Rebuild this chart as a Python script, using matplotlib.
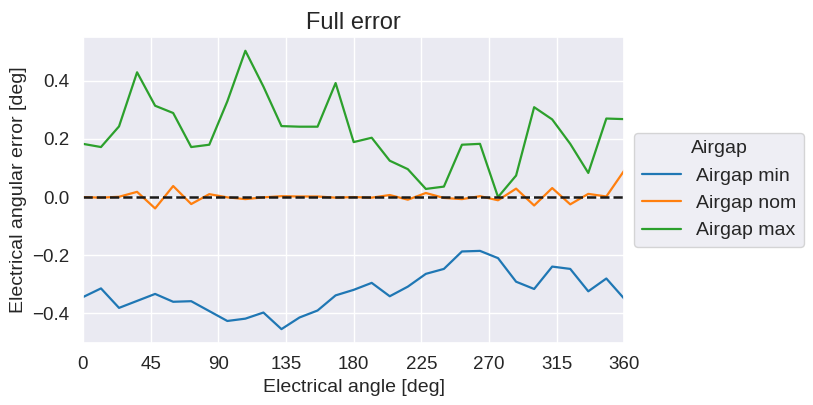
import matplotlib
matplotlib.use("Agg")
import matplotlib.pyplot as plt
import seaborn as sns

angles = [i * 12 for i in range(31)]

airgap_min = [-0.344, -0.314, -0.381, -0.357, -0.333, -0.360, -0.358, -0.392,
              -0.426, -0.418, -0.397, -0.454, -0.414, -0.390, -0.338, -0.319,
              -0.295, -0.341, -0.308, -0.264, -0.247, -0.187, -0.185, -0.210,
              -0.291, -0.316, -0.239, -0.247, -0.324, -0.280, -0.350]
airgap_nom = [0.000, -0.002, 0.001, 0.018, -0.039, 0.038, -0.024, 0.010,
              -0.001, -0.007, -0.001, 0.003, 0.002, 0.002, -0.002, 0.000,
              -0.002, 0.007, -0.009, 0.014, -0.003, -0.007, 0.003, -0.011,
              0.029, -0.029, 0.031, -0.025, 0.011, 0.002, 0.092]
airgap_max = [0.183, 0.172, 0.243, 0.429, 0.314, 0.289, 0.172, 0.180,
              0.329, 0.503, 0.380, 0.244, 0.242, 0.242, 0.392, 0.189,
              0.204, 0.125, 0.096, 0.028, 0.036, 0.180, 0.183, 0.000,
              0.074, 0.309, 0.267, 0.183, 0.083, 0.270, 0.268]

series_names = ["Airgap min", "Airgap nom", "Airgap max"]
series_colors = ["tab:blue", "tab:orange", "tab:green"]
x_ticks = [0, 45, 90, 135, 180, 225, 270, 315, 360]


def main():
    sns.set_theme(style="darkgrid")
    plt.rcParams["font.family"] = ["Liberation Sans", "DejaVu Sans"]

    fig = plt.figure(figsize=(8.13, 4.05), dpi=100)
    ax = fig.add_axes([0.102, 0.153, 0.666, 0.756])

    for values, name, color in zip([airgap_min, airgap_nom, airgap_max],
                                   series_names, series_colors):
        ax.plot(angles, values, label=name, color=color, linewidth=1.6)

    ax.axhline(0, color="k", linestyle="--", linewidth=1.8)

    ax.set_xlim(0, 360)
    ax.set_xticks(x_ticks)
    ax.set_yticks([-0.4, -0.2, 0.0, 0.2, 0.4])
    ax.tick_params(labelsize=13.5)
    ax.set_xlabel("Electrical angle [deg]", fontsize=14)
    ax.set_ylabel("Electrical angular error [deg]", fontsize=14)
    ax.set_title("Full error", fontsize=17)

    ax.legend(title="Airgap", loc="center left", bbox_to_anchor=(1.0, 0.5),
              fontsize=14, title_fontsize=14)

    fig.savefig("out.png", dpi=100)
    plt.close(fig)


if __name__ == "__main__":
    main()
